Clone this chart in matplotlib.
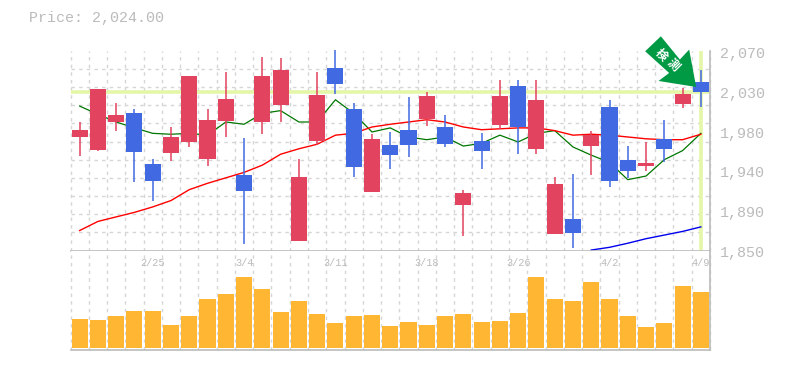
import matplotlib
matplotlib.use("Agg")
import matplotlib.pyplot as plt
from matplotlib.patches import Polygon
from matplotlib.transforms import ScaledTranslation

# daily prices, one row per trading day
opens = [1975, 1961, 1991.5, 2001, 1945, 1957, 1969.5, 1951, 1993, 1933, 1991, 2010,
         1860.5, 1971, 2051, 2006, 1914, 1966, 1983, 1995, 1986, 1900, 1971, 1988,
         2031, 1962, 1868, 1885, 1965, 2008, 1950, 1943, 1973, 2011, 2036]
highs = [1991.5, 2028, 2012, 2006, 1951, 1986, 2042, 2006, 2046.5, 1974, 2063, 2062,
         1951, 2046.5, 2071, 2012, 1978, 1980.5, 2019, 2025, 1999, 1917, 1979, 2038,
         2038, 2038, 1931, 1934, 1982, 2016, 1965, 1969.5, 1994, 2029, 2049]
lows = [1954, 1960, 1982, 1925, 1905, 1948.5, 1964, 1943, 1975, 1857.5, 1978, 1991.5,
        1860.5, 1966, 2022, 1931, 1914, 1940, 1953, 1987, 1964, 1866, 1940, 1984,
        1956, 1956, 1868, 1853, 1933, 1920, 1930, 1937.5, 1947, 2007, 2008]
closes = [1983, 2028, 1999, 1958.5, 1926.5, 1975, 2042, 1994, 2017, 1915.5, 2042, 2049,
          1931, 2021, 2033, 1942, 1973, 1955, 1966, 2020, 1967, 1913, 1960, 2020,
          1986, 2016, 1923, 1869, 1977, 1926.5, 1937.5, 1946, 1962, 2022, 2025]
volumes = [28.7, 27.7, 31.7, 36.7, 36.7, 22.7, 31.7, 48.7, 53.7, 70.7, 58.7, 35.7,
           46.7, 33.7, 24.7, 31.7, 32.7, 21.7, 25.7, 22.7, 31.7, 33.7, 25.7, 26.7,
           34.7, 70.7, 48.7, 46.7, 65.7, 48.7, 31.7, 20.7, 24.7, 61.7, 55.7]

ma_short = [2009, 2000, 1991.5, 1985, 1979, 1978, 1979, 1977, 1991.5, 1989, 2001, 2004,
            1991.5, 1991.5, 2016, 2001, 1980.5, 1985, 1975, 1972, 1975, 1965, 1968, 1977,
            1969.5, 1979, 1982, 1964, 1955, 1947, 1928, 1932, 1950, 1960, 1979]
ma_mid = [1872, 1882, 1887, 1892, 1898, 1905, 1917, 1924, 1930, 1936, 1944, 1956,
          1962, 1967, 1977, 1979, 1986, 1989, 1991.5, 1994, 1991.5, 1986, 1983, 1984,
          1985, 1985, 1982, 1977, 1978, 1977, 1975, 1973, 1972, 1972, 1978]
ma_long_days = [28, 29, 30, 31, 32, 33, 34]
ma_long = [1850.5, 1853.5, 1858, 1863, 1867, 1871, 1876]

price_ticks = [1850, 1894, 1938, 1982, 2026, 2070]
price_labels = ["1,850", "1,890", "1,940", "1,980", "2,030", "2,070"]
date_days = [4, 9, 14, 19, 24, 29, 34]
date_labels = ["2/25", "3/4", "3/11", "3/18", "3/26", "4/2", "4/9"]
last_price = 2025
title = "Price: 2,024.00"
arrow_text = "検測"

UP = "#E2435F"
DOWN = "#4169E1"
GRID = "#D6D6D6"
AXIS = "#BBBBBB"
BAND = "#E4F6A8"
VOL = "#FFB733"
ARROW = "#009944"
MONO = "Liberation Mono"

days = range(len(closes))
W, H = 785, 370

fig = plt.figure(figsize=(W / 100, H / 100), dpi=100, facecolor="white")
ax = fig.add_axes([70.5 / W, 1 - 250.5 / H, 639.5 / W, 199.8 / H])
ax_vol = fig.add_axes([70.5 / W, 1 - 350 / H, 639.5 / W, 99.5 / H], sharex=ax)

ax.set_xlim(-0.5, 34.5)
ax.set_ylim(1850, 2070)
ax_vol.set_ylim(-2.5, 97)

for a in (ax, ax_vol):
    a.set_xticks([d + 0.5 for d in days], minor=True)
    a.set_xticks([-0.5])
    a.grid(True, which="both", axis="x", color=GRID, lw=1, ls=(0, (2.5, 3)), zorder=0)
    a.tick_params(which="both", length=0, labelbottom=False, labelleft=False)
    a.set_axisbelow(True)
    for side in ("top", "left"):
        a.spines[side].set_visible(False)
    for side in ("bottom", "right"):
        a.spines[side].set_color(AXIS)
        a.spines[side].set_linewidth(1.2)

# horizontal grid only in the price pane, every 20
ax.set_yticks(range(1850, 2071, 20), minor=True)
ax.grid(True, which="minor", axis="y", color=GRID, lw=1, ls=(0, (2.5, 3)), zorder=0)
ax.set_yticks(price_ticks)
ax.set_yticklabels(price_labels, family=MONO, fontsize=10.8, color=AXIS)
ax.tick_params(axis="y", which="both", labelright=True, pad=7)
ax.grid(False, which="major", axis="y")
for lab in ax.get_yticklabels():
    lab.set_transform(lab.get_transform() + ScaledTranslation(0, -1 / 72, fig.dpi_scale_trans))
ax_vol.set_yticks([])

for a in (ax, ax_vol):
    for line in a.get_xgridlines() + a.get_ygridlines():
        line.set_clip_on(False)
    for tick in a.xaxis.get_minor_ticks() + a.yaxis.get_minor_ticks():
        tick.gridline.set_clip_on(False)

# crosshair on the latest price
ax.axhline(last_price, color=BAND, lw=2.6, zorder=1)
ax.axvline(days[-1], color=BAND, lw=2.6, zorder=1)

ax.plot(days, ma_short, color="#007700", lw=0.9, zorder=2)
ax.plot(days, ma_mid, color="#FF0000", lw=1, zorder=2)
ax.plot(ma_long_days, ma_long, color="#0000EE", lw=1, zorder=2)

colors = [UP if c >= o else DOWN for o, c in zip(opens, closes)]
ax.vlines(days, lows, highs, colors=colors, lw=1.1, zorder=3, clip_on=False)
ax.bar(days, [abs(c - o) for o, c in zip(opens, closes)],
       bottom=[min(o, c) for o, c in zip(opens, closes)],
       width=0.88, color=colors, zorder=3)

ax_vol.bar(days, volumes, width=0.88, color=VOL, zorder=3)

for d, lab in zip(date_days, date_labels):
    ax_vol.annotate(lab, (d, 1), xycoords=("data", "axes fraction"), xytext=(0, -12),
                    textcoords="offset pixels", ha="center", va="center",
                    family=MONO, fontsize=7.4, color=AXIS, zorder=1)

fig.text(29 / W, 1 - 18 / H, title, family=MONO, fontsize=10.8, color=AXIS, va="center")

# arrow badge pointing at the last candle, offsets in px from its close
px = ax.transData.transform((days[-1], closes[-1]))
arrow_shape = [(-40, -55.3), (-55.7, -40.3), (-31.7, -18.6), (-42.3, -10.6),
               (-4.7, -4.6), (-11.7, -42), (-21, -32)]
pts = [(px[0] + dx, px[1] - dy) for dx, dy in arrow_shape]
ax.add_patch(Polygon(pts, closed=True, transform=None, facecolor=ARROW, edgecolor="none",
                     zorder=5, clip_on=False))
for ch, (dx, dy) in zip(arrow_text, [(-40, -37), (-27.3, -27)]):
    fig.text((px[0] + dx) / W, (px[1] - dy) / H, ch, family="Noto Sans CJK JP", fontsize=8.6,
             weight="bold", color="white", rotation=-45, ha="center", va="center", zorder=6)

fig.savefig("out.png", dpi=100)
